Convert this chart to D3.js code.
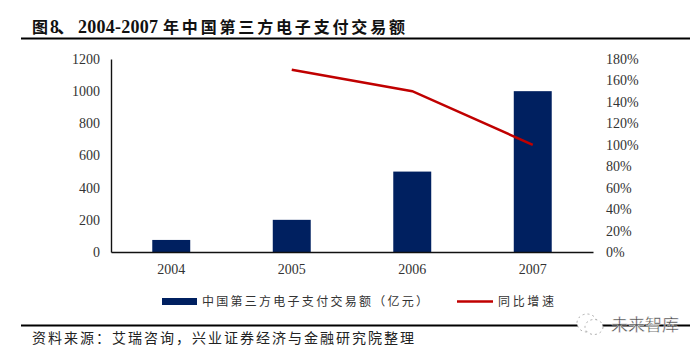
<!DOCTYPE html>
<html>
<head>
<meta charset="utf-8">
<script src="https://cdn.jsdelivr.net/npm/d3@7"></script>
<style>
html,body{margin:0;padding:0;background:#fff;}
svg{display:block;}
</style>
</head>
<body>
<div id="chart"></div>
<script>
var years = ["2004","2005","2006","2007"];
var amount = [75,200,500,1000];
var growth = [null,170,150,100];
var leftTicks = [0,200,400,600,800,1000,1200];
var rightTicks = [0,20,40,60,80,100,120,140,160,180];

var serif = "'Liberation Serif','Noto Sans CJK SC',serif";
var cjk = "'Noto Sans CJK SC',sans-serif";
var width = 700, height = 355;

var svg = d3.select("#chart").append("svg")
	.attr("width", width)
	.attr("height", height);

var padding = {left:111, right:593, top:59, bottom:252};

var xScale = d3.scaleBand()
	.domain(years)
	.range([padding.left, padding.right])
	.paddingInner(0.685)
	.paddingOuter(0.3425);

var yLeft = d3.scaleLinear().domain([0,1200]).range([padding.bottom, padding.top]);
var yRight = d3.scaleLinear().domain([0,180]).range([padding.bottom, padding.top]);

// title, three runs so the spacing follows the original
function titleRun(x, txt, size, len) {
	svg.append("text")
		.attr("x", x).attr("y", 33)
		.attr("font-family", serif)
		.attr("font-size", size)
		.attr("font-weight", "bold")
		.attr("fill", "#111")
		.text(txt)
		.attr("textLength", len)
		.attr("lengthAdjust", "spacing");
}
titleRun(32, "图", 16, 16);
titleRun(50, "8、", 18, 25);
titleRun(78, "2004-2007", 18, 80);
titleRun(163, "年中国第三方电子支付交易额", 16, 242);

svg.append("line").attr("x1",21).attr("x2",690).attr("y1",38.5).attr("y2",38.5)
	.attr("stroke","#000").attr("stroke-width",2);
svg.append("line").attr("x1",21).attr("x2",690).attr("y1",325.5).attr("y2",325.5)
	.attr("stroke","#000").attr("stroke-width",2);

// bars
svg.selectAll("rect.bar")
	.data(amount)
	.enter().append("rect")
	.attr("class","bar")
	.attr("x", function(d,i){ return xScale(years[i]); })
	.attr("y", function(d){ return yLeft(d); })
	.attr("width", xScale.bandwidth())
	.attr("height", function(d){ return padding.bottom - yLeft(d); })
	.attr("fill","#002060");

// axes
var xAxis = d3.axisBottom(xScale).tickSize(0).tickPadding(12);
var leftAxis = d3.axisLeft(yLeft).tickValues(leftTicks).tickSize(0).tickPadding(11).tickFormat(d3.format("d"));
var rightAxis = d3.axisRight(yRight).tickValues(rightTicks).tickSize(0).tickPadding(13)
	.tickFormat(function(d){ return d + "%"; });

var gx = svg.append("g").attr("transform","translate(0," + padding.bottom + ")").call(xAxis);
var gl = svg.append("g").attr("transform","translate(" + padding.left + ",0)").call(leftAxis);
var gr = svg.append("g").attr("transform","translate(" + padding.right + ",0)").call(rightAxis);

gr.select(".domain").remove();
gx.select(".domain").attr("stroke","#111").attr("stroke-width",1.4);
gl.select(".domain").attr("stroke","#111").attr("stroke-width",1.4);

svg.selectAll(".tick text")
	.attr("font-family", serif)
	.attr("font-size", 14)
	.attr("fill", "#333");

// line
var line = d3.line()
	.defined(function(d){ return d !== null; })
	.x(function(d,i){ return xScale(years[i]) + xScale.bandwidth()/2; })
	.y(function(d){ return yRight(d); });

svg.append("path")
	.datum(growth)
	.attr("d", line)
	.attr("fill","none")
	.attr("stroke","#c00000")
	.attr("stroke-width",2.5);

// legend
svg.append("rect").attr("x",162).attr("y",298).attr("width",35).attr("height",7).attr("fill","#002060");
svg.append("text").attr("x",202).attr("y",306)
	.attr("font-family",cjk).attr("font-size",12).attr("fill","#333")
	.text("中国第三方电子支付交易额（亿元）")
	.attr("textLength",226).attr("lengthAdjust","spacing");
svg.append("line").attr("x1",457).attr("x2",493).attr("y1",301.5).attr("y2",301.5)
	.attr("stroke","#c00000").attr("stroke-width",2.5);
svg.append("text").attr("x",498).attr("y",306)
	.attr("font-family",cjk).attr("font-size",12).attr("fill","#333")
	.text("同比增速")
	.attr("textLength",56).attr("lengthAdjust","spacing");

// source
svg.append("text").attr("x",32).attr("y",343)
	.attr("font-family",cjk).attr("font-size",14).attr("fill","#222")
	.text("资料来源：艾瑞咨询，兴业证券经济与金融研究院整理")
	.attr("textLength",382).attr("lengthAdjust","spacing");

// watermark
svg.append("ellipse").attr("cx",587).attr("cy",323).attr("rx",10).attr("ry",9)
	.attr("fill","#fff").attr("stroke","#999").attr("stroke-width",0.8).attr("stroke-dasharray","2 3");
svg.append("ellipse").attr("cx",594).attr("cy",327).attr("rx",9).attr("ry",7.5)
	.attr("fill","#fff").attr("stroke","#999").attr("stroke-width",0.8).attr("stroke-dasharray","2 3");
svg.append("text").attr("x",611).attr("y",331)
	.attr("font-family",cjk).attr("font-size",17).attr("fill","#444")
	.attr("stroke","#fff").attr("stroke-width",0.4)
	.text("未来智库")
	.attr("textLength",68).attr("lengthAdjust","spacing");
</script>
</body>
</html>
